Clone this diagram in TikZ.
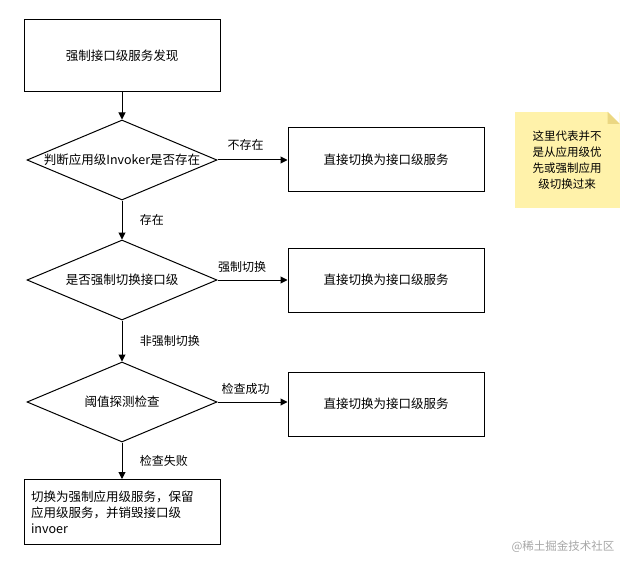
\documentclass[tikz,border=0pt]{standalone}
\usepackage{fontspec}
\setmainfont{Noto Sans CJK SC}
\usetikzlibrary{shapes.geometric,arrows.meta}
\definecolor{notefill}{RGB}{255,242,170}
\definecolor{notefold}{RGB}{235,215,130}
\tikzset{
  procbox/.style={draw, line width=1pt, minimum width=196pt, minimum height=64pt, font=\fontsize{12.5}{16}\selectfont},
  choice/.style={draw, diamond, aspect=2.4, line width=1pt, minimum width=190pt, minimum height=80pt, inner sep=0pt, font=\fontsize{12.5}{16}\selectfont},
  flow/.style={-{Triangle[length=7pt,width=7pt]}, line width=1pt},
  edgetext/.style={font=\fontsize{12}{15}\selectfont}
}
\begin{document}
\begin{tikzpicture}[x=1pt,y=-1pt]
\useasboundingbox (0,0) rectangle (639,569);

\node[procbox, minimum height=72pt] (start) at (122,56) {强制接口级服务发现};
\node[choice] (invoker) at (122,160) {判断应用级Invoker是否存在};
\node[procbox] (direct1) at (386,160) {直接切换为接口级服务};
\node[choice] (force) at (122,280) {是否强制切换接口级};
\node[procbox] (direct2) at (386,280) {直接切换为接口级服务};
\node[choice] (check) at (122,402) {阈值探测检查};
\node[procbox] (direct3) at (386,404) {直接切换为接口级服务};
\node[procbox, minimum height=65pt, align=left, text width=182pt] (fallback) at (122,512)
  {切换为强制应用级服务，保留\\应用级服务，并销毁接口级\\invoer};
\node[fill=notefill, minimum width=105pt, minimum height=96pt, align=center,
  font=\fontsize{11.5}{16}\selectfont] (note) at (567,160) {这里代表并不\\是从应用级优\\先或强制应用\\级切换过来};
\fill[white] (note.north east) -- ++(-12,0) -- ++(12,12) -- cycle;
\fill[notefold] (note.north east) ++(-12,0) -- ++(0,12) -- ++(12,0) -- cycle;

\draw[flow] (start) -- (invoker);
\draw[flow] (invoker) -- node[edgetext, above, pos=0.4, yshift=6pt] {不存在} (direct1);
\draw[flow] (invoker) -- node[edgetext, right, xshift=14pt] {存在} (force);
\draw[flow] (force) -- node[edgetext, above, pos=0.35, yshift=4pt] {强制切换} (direct2);
\draw[flow] (force) -- node[edgetext, right, xshift=14pt] {非强制切换} (check);
\draw[flow] (check) -- node[edgetext, above, pos=0.4, yshift=4pt] {检查成功} (direct3.west |- check);
\draw[flow] (check) -- node[edgetext, right, xshift=14pt] {检查失败} (fallback);

\node[text=gray!70, font=\fontsize{11.5}{13}\selectfont] (mark) at (563,547) {@稀土掘金技术社区};
\end{tikzpicture}
\end{document}
